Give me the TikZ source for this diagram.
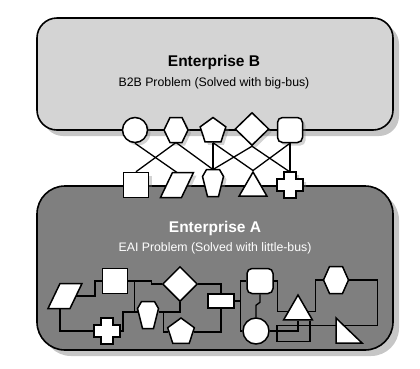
\documentclass[tikz,border=0pt]{standalone}
\usepackage{fontspec}
\setmainfont{Liberation Sans}
\usetikzlibrary{shapes.geometric, shadows, calc}
\definecolor{boxB}{HTML}{D4D4D4}
\definecolor{boxA}{HTML}{7F7F7F}

\begin{document}
\begin{tikzpicture}[x=1pt, y=-1pt,
  entbox/.style={draw, line width=1.6pt, rounded corners=#1,
    drop shadow={shadow xshift=6pt, shadow yshift=-6pt, opacity=.45}},
  shp/.style={draw, fill=white, line width=1.5pt, inner sep=0pt,
    drop shadow={shadow xshift=3pt, shadow yshift=-3pt, opacity=.35}},
  slot/.style={inner sep=0pt, outer sep=0pt},
  wire/.style={line width=1.3pt},
  ttl/.style={font=\bfseries\fontsize{15.5}{18}\selectfont},
  sub/.style={font=\fontsize{12.3}{14}\selectfont}]

\useasboundingbox (0,0) rectangle (420,368);

% --- the two enterprises ---
\draw[entbox=20pt, fill=boxB] (37,18) rectangle (393,130);
\draw[entbox=28pt, fill=boxA] (37,186) rectangle (393,350);

\node[ttl] (ttlB) at (214,62) {Enterprise B};
\node[sub] (subB) at (214,83) {B2B Problem (Solved with big-bus)};
\node[ttl, text=white] (ttlA) at (215,228) {Enterprise A};
\node[sub, text=white] (subA) at (215,248) {EAI Problem (Solved with little-bus)};

% --- big-bus end points of B ---
\node[shp, circle, minimum size=25pt] (bCirc) at (135,130) {};
\node[slot, minimum width=24pt, minimum height=25pt] (bHex) at (176,130) {};
\draw[shp] (bHex.west) -- ++(6,-12.5) -- ++(12,0) -- (bHex.east) -- ++(-6,12.5) -- ++(-12,0) -- cycle;
\node[shp, regular polygon, regular polygon sides=5, minimum size=27pt] (bPent) at (213,131) {};
\node[shp, diamond, minimum width=34pt, minimum height=33pt] (bDiam) at (252,129) {};
\node[shp, rectangle, rounded corners=5pt, minimum size=25pt] (bRnd) at (290,130) {};

% --- big-bus end points of A ---
\node[shp, rectangle, minimum size=25pt] (eSq) at (136,185) {};
\node[slot, minimum width=33pt, minimum height=25pt] (ePara) at (177,185) {};
\draw[shp] (ePara.south west) -- ++(21,0) -- (ePara.north east) -- ++(-21,0) -- cycle;
\node[slot, minimum width=21pt, minimum height=27pt] (eCof) at (213,183) {};
\draw[shp] (eCof.center) ++(-6.5,-13.5) -- ++(13,0) -- ++(4,7) -- ++(-5,20) -- ++(-11,0) -- ++(-5,-20) -- cycle;
\node[shp, regular polygon, regular polygon sides=3, minimum size=32pt] (eTri) at (253,188) {};
\node[slot, minimum size=26pt] (eCross) at (290,185) {};
\draw[shp] (eCross.center) ++(-6,-13) -- ++(12,0) -- ++(0,7) -- ++(7,0) -- ++(0,12) -- ++(-7,0)
  -- ++(0,7) -- ++(-12,0) -- ++(0,-7) -- ++(-7,0) -- ++(0,-12) -- ++(7,0) -- cycle;

% --- little-bus inside A ---
\node[slot, minimum width=34pt, minimum height=25pt] (iPara) at (65,296) {};
\draw[shp] (iPara.south west) -- ++(22,0) -- (iPara.north east) -- ++(-22,0) -- cycle;
\node[shp, rectangle, minimum size=25pt] (iSq) at (115,281) {};
\node[slot, minimum size=26pt] (iCross) at (107,331) {};
\draw[shp] (iCross.center) ++(-6,-13) -- ++(12,0) -- ++(0,7) -- ++(7,0) -- ++(0,12) -- ++(-7,0)
  -- ++(0,7) -- ++(-12,0) -- ++(0,-7) -- ++(-7,0) -- ++(0,-12) -- ++(7,0) -- cycle;
\node[slot, minimum width=21pt, minimum height=27pt] (iCof) at (148,315) {};
\draw[shp] (iCof.center) ++(-6.5,-13.5) -- ++(13,0) -- ++(4,7) -- ++(-5,20) -- ++(-11,0) -- ++(-5,-20) -- cycle;
\node[shp, diamond, minimum size=35pt] (iDiam) at (180,284) {};
\node[shp, regular polygon, regular polygon sides=5, minimum size=28pt] (iPent) at (181,332) {};
\node[shp, rectangle, minimum width=26pt, minimum height=14pt] (iBar) at (221,301) {};
\node[shp, rectangle, rounded corners=5pt, minimum width=26pt, minimum height=25pt] (iRnd) at (260,281) {};
\node[shp, circle, minimum size=26pt] (iCirc) at (256,331) {};
\node[shp, regular polygon, regular polygon sides=3, minimum size=33pt] (iTri) at (298,311.5) {};
\node[slot, minimum width=25pt, minimum height=27pt] (iHex) at (336,280) {};
\draw[shp] (iHex.west) -- ++(6,-13.5) -- ++(13,0) -- (iHex.east) -- ++(-6,13.5) -- ++(-13,0) -- cycle;
\node[slot, minimum width=26pt, minimum height=25pt] (iWedge) at (349,330.5) {};
\draw[shp] (iWedge.north west) -- (iWedge.south west) -- (iWedge.south east) -- cycle;

% --- B to A links ---
\draw[wire] (bCirc.south) -- (ePara.north);
\draw[wire] (bHex.south) -- (eSq.north);
\draw[wire] (bHex.south) -- (eCof.north);
\draw[wire] (bPent.south) -- (eCof.north);
\draw[wire] (bPent.south) -- (eTri.north);
\draw[wire] (bDiam.south) -- (eCof.north);
\draw[wire] (bDiam.south) -- (eCross.north);
\draw[wire] (bRnd.south) -- (eTri.north);
\draw[wire] (bRnd.south) -- (eCross.north);

% --- links inside A ---
\draw[wire] ([xshift=-6pt]iPara.east) -- ++(19,0) |- (iSq.west);
\draw[wire] ([xshift=-5pt]iPara.south) |- (iCross.west);
\draw[wire] (iSq.east) -- ++(23,0) |- (iDiam.west);
\draw[wire] (iSq.east) ++(6,0) |- ([yshift=3pt]iCof.west);
\draw[wire] (iCross.east) -- ++(3,0) |- ([yshift=3pt]iCof.west);
\draw[wire] ([yshift=3pt]iCof.east) -- ++(5,0) |- (iPent.west);
\draw[wire] (iDiam.south) |- ([xshift=5pt,yshift=3pt]iCof.east);
\draw[wire] (iDiam.east) -| (iBar.north);
\draw[wire] (iPent.east) -| (iBar.south);
\draw[wire] (iBar.east) -- ++(6,0) |- (iRnd.west);
\draw[wire] (iBar.east) ++(6,0) |- (iCirc.west);
\draw[wire] (iRnd.south) -- ++(0,8) -- ($(iCirc.north)+(0,-12)$) -- (iCirc.north);
\draw[wire] (iRnd.east) -- ++(4,0) |- (iTri.west);
\draw[wire] (iTri.east) -- ++(7,0) |- (iHex.west);
\draw[wire] (iHex.east) -- ++(29,0) |- ($(iWedge.north west)!.3!(iWedge.south east)$);
\draw[wire] (iCirc.east) -| (iTri.south);
\draw[wire] ([xshift=12pt]iTri.south) |- ++(-33,21) |- ([yshift=5pt]iWedge.west);
\end{tikzpicture}
\end{document}
